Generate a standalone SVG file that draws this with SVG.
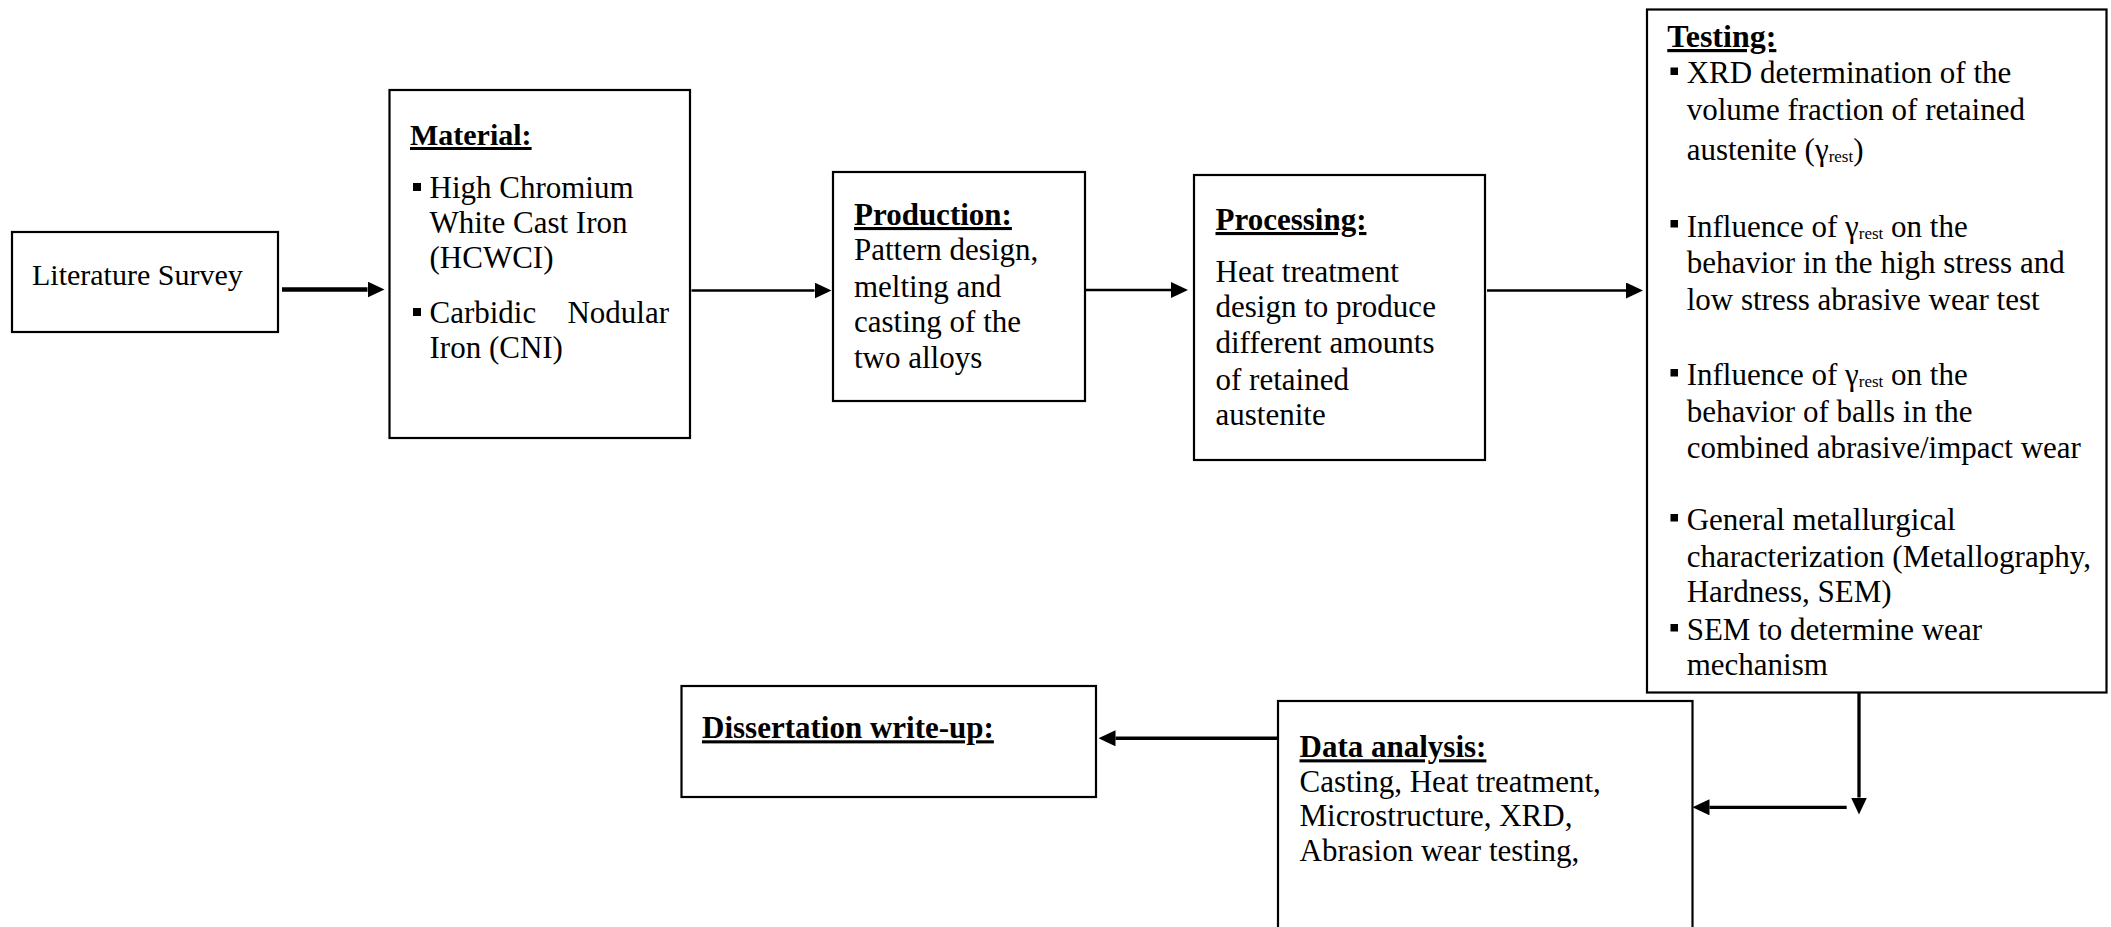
<svg xmlns="http://www.w3.org/2000/svg" width="2111" height="927" viewBox="0 0 2111 927" font-family="'Liberation Serif', 'Times New Roman', serif">
<style>
  .box { fill: #ffffff; stroke: #000000; stroke-width: 2.2; }
  text { font-family: "Liberation Serif", "Times New Roman", serif; fill: #000000; }
  .t { font-size: 31px; }
  .title { font-size: 31px; font-weight: bold; text-decoration: underline; }
  .sub { font-size: 17px; }
  .bul { fill: #000000; }
  .conn { stroke: #000000; fill: none; }
</style>
<defs>
  <marker id="ah" markerUnits="userSpaceOnUse" markerWidth="17" markerHeight="16" viewBox="0 0 17 16" refX="0" refY="8" orient="auto">
    <path d="M0,0 L17,8 L0,16 Z" fill="#000000"/>
  </marker>
</defs>
<rect width="2111" height="927" fill="#ffffff"/>

<g id="literature">
  <rect class="box" x="12" y="232" width="266" height="100"/>
  <text x="32" y="285" style="font-size:30px">Literature Survey</text>
</g>

<g id="material">
  <rect class="box" x="389.5" y="90" width="300.5" height="348"/>
  <text class="title" x="410" y="145" style="font-size:30px">Material:</text>
  <rect class="bul" x="413" y="183" width="8" height="8"/>
  <text class="t" x="429.5" y="198.3">High Chromium</text>
  <text class="t" x="429.5" y="233.3">White Cast Iron</text>
  <text class="t" x="429.5" y="268.3">(HCWCI)</text>
  <rect class="bul" x="413" y="308" width="8" height="8"/>
  <text class="t" y="323.3"><tspan x="429.5">Carbidic</tspan><tspan x="669" text-anchor="end">Nodular</tspan></text>
  <text class="t" x="429.5" y="358.3">Iron (CNI)</text>
</g>

<g id="production">
  <rect class="box" x="833" y="172" width="252" height="229"/>
  <text class="title" x="854" y="225">Production:</text>
  <text class="t" x="854" y="260">Pattern design,</text>
  <text class="t" x="854" y="296.7">melting and</text>
  <text class="t" x="854" y="331.7">casting of the</text>
  <text class="t" x="854" y="368.3">two alloys</text>
</g>

<g id="processing">
  <rect class="box" x="1194" y="175" width="291" height="285"/>
  <text class="title" x="1215.5" y="230">Processing:</text>
  <text class="t" x="1215.5" y="281.7">Heat treatment</text>
  <text class="t" x="1215.5" y="316.7">design to produce</text>
  <text class="t" x="1215.5" y="353.3">different amounts</text>
  <text class="t" x="1215.5" y="390">of retained</text>
  <text class="t" x="1215.5" y="425">austenite</text>
</g>

<g id="testing">
  <rect class="box" x="1647" y="9.5" width="459.5" height="683"/>
  <text class="title" x="1667.3" y="47" style="font-size:32px">Testing:</text>
  <rect class="bul" x="1670.5" y="67.5" width="7.5" height="7.5"/>
  <text class="t" x="1686.7" y="83.3">XRD determination of the</text>
  <text class="t" x="1686.7" y="120">volume fraction of retained</text>
  <text class="t" x="1686.7" y="160">austenite (γ<tspan class="sub" dy="2">rest</tspan><tspan dy="-2">)</tspan></text>
  <rect class="bul" x="1670.5" y="220" width="7.5" height="7.5"/>
  <text class="t" x="1686.7" y="236.7">Influence of γ<tspan class="sub" dy="2">rest</tspan><tspan dy="-2"> on the</tspan></text>
  <text class="t" x="1686.7" y="273.3">behavior in the high stress and</text>
  <text class="t" x="1686.7" y="310">low stress abrasive wear test</text>
  <rect class="bul" x="1670.5" y="369" width="7.5" height="7.5"/>
  <text class="t" x="1686.7" y="385">Influence of γ<tspan class="sub" dy="2">rest</tspan><tspan dy="-2"> on the</tspan></text>
  <text class="t" x="1686.7" y="421.7">behavior of balls in the</text>
  <text class="t" x="1686.7" y="458.3">combined abrasive/impact wear</text>
  <rect class="bul" x="1670.5" y="514" width="7.5" height="7.5"/>
  <text class="t" x="1686.7" y="530">General metallurgical</text>
  <text class="t" x="1686.7" y="566.7">characterization (Metallography,</text>
  <text class="t" x="1686.7" y="601.7">Hardness, SEM)</text>
  <rect class="bul" x="1670.5" y="624" width="7.5" height="7.5"/>
  <text class="t" x="1686.7" y="640">SEM to determine wear</text>
  <text class="t" x="1686.7" y="675">mechanism</text>
</g>

<g id="dissertation">
  <rect class="box" x="681.5" y="686" width="414.5" height="111"/>
  <text class="title" x="702" y="738.3">Dissertation write-up:</text>
</g>

<g id="data-analysis">
  <rect class="box" x="1278" y="701" width="414.5" height="240"/>
  <text class="title" x="1299.5" y="757.3">Data analysis:</text>
  <text class="t" x="1299.5" y="791.7">Casting, Heat treatment,</text>
  <text class="t" x="1299.5" y="826">Microstructure, XRD,</text>
  <text class="t" x="1299.5" y="861">Abrasion wear testing,</text>
</g>

<g id="connectors">
  <line class="conn" x1="282" y1="289.5" x2="367.5" y2="289.5" stroke-width="4.5" marker-end="url(#ah)"/>
  <line class="conn" x1="691.5" y1="290.5" x2="814.5" y2="290.5" stroke-width="2.7" marker-end="url(#ah)"/>
  <line class="conn" x1="1086" y1="290" x2="1171" y2="290" stroke-width="2.7" marker-end="url(#ah)"/>
  <line class="conn" x1="1487" y1="290.5" x2="1626" y2="290.5" stroke-width="2.7" marker-end="url(#ah)"/>
  <line class="conn" x1="1859" y1="693" x2="1859" y2="797.5" stroke-width="3.3" marker-end="url(#ah)"/>
  <line class="conn" x1="1846.7" y1="807.3" x2="1709.5" y2="807.3" stroke-width="3.3" marker-end="url(#ah)"/>
  <line class="conn" x1="1278" y1="738.3" x2="1115.5" y2="738.3" stroke-width="3.5" marker-end="url(#ah)"/>
</g>
</svg>
